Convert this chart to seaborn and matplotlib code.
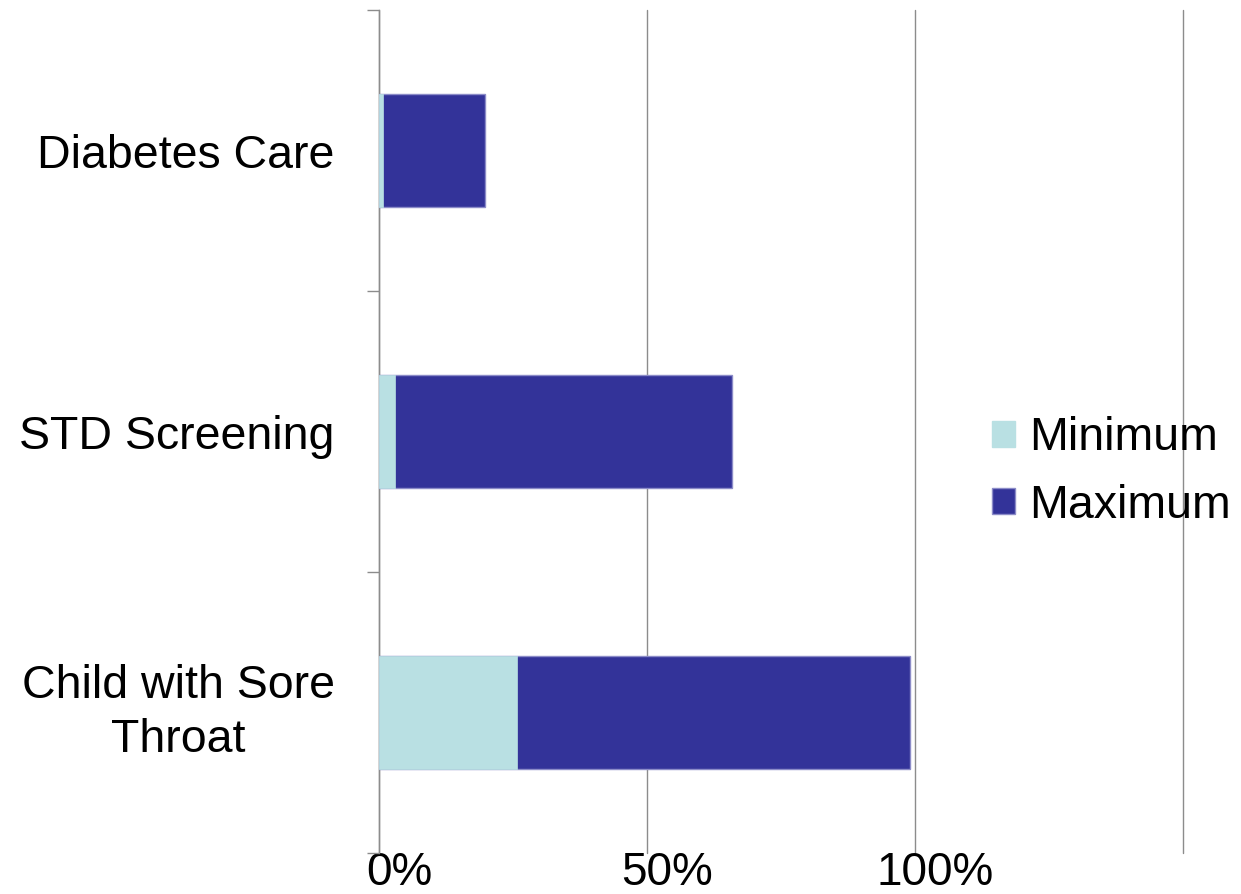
import matplotlib
matplotlib.use("Agg")
import matplotlib.pyplot as plt
import matplotlib.transforms as mtransforms
from matplotlib.patches import Patch
import seaborn as sns
import pandas as pd

# Data (percent)
categories = ["Diabetes Care", "STD Screening", "Child with Sore\nThroat"]
minimum = [0.8, 2.9, 25.8]
maximum = [19.8, 65.9, 99.1]
x_ticks = [0, 50, 100, 150]
x_tick_labels = ["0%", "50%", "100%", ""]

color_min = "#B9E0E3"
color_max = "#333399"

sns.set_theme(style="white")
plt.rcParams["font.family"] = ["Liberation Sans", "DejaVu Sans"]
plt.rcParams["text.color"] = "black"

df = pd.DataFrame({"category": categories, "Minimum": minimum, "Maximum": maximum})

fig = plt.figure(figsize=(12.41, 8.94), dpi=100)
ax = fig.add_axes([379 / 1241, 1 - 853 / 894, (1183 - 379) / 1241, (853 - 10) / 894])

# Maximum bar spans the full range; the minimum portion is drawn over its start
sns.barplot(data=df, x="Maximum", y="category", orient="h", color=color_max,
            width=0.4, edgecolor="#8c8cc8", linewidth=1.0, saturation=1, ax=ax, zorder=3)
sns.barplot(data=df, x="Minimum", y="category", orient="h", color=color_min,
            width=0.4, edgecolor=color_min, linewidth=0.5, saturation=1, ax=ax, zorder=4)

ax.set_xlim(0, 150)
ax.set_ylim(2.5, -0.5)
ax.set_xlabel("")
ax.set_ylabel("")

# Gridlines
ax.set_xticks(x_ticks)
ax.set_xticklabels(x_tick_labels, fontsize=33, color="black")
ax.grid(axis="x", color="#8c8c8c", linewidth=1.0, zorder=0)
ax.set_axisbelow(True)
for gl in ax.get_xgridlines():
    gl.set_clip_on(False)
ax.tick_params(axis="x", length=0, pad=0)
offset = mtransforms.ScaledTranslation(20 / 100, 2 / 100, fig.dpi_scale_trans)
for lbl in ax.get_xticklabels():
    lbl.set_transform(lbl.get_transform() + offset)

# Category labels on major ticks, tick marks on boundaries
ax.set_yticks([0, 1, 2])
ax.set_yticklabels(categories, fontsize=33.5, color="black", multialignment="center")
ax.tick_params(axis="y", which="major", left=True, length=0, pad=32)
ax.set_yticks([-0.5, 0.5, 1.5, 2.5], minor=True)
ax.tick_params(axis="y", which="minor", left=True, length=9, width=1.0,
               color="#8c8c8c", direction="out")
for lbl in ax.get_yticklabels():
    if "\n" in lbl.get_text():
        lbl.set_linespacing(1.3)
        lbl.set_transform(lbl.get_transform()
                          + mtransforms.ScaledTranslation(0, 10 / 100, fig.dpi_scale_trans))

for side in ["top", "right", "bottom"]:
    ax.spines[side].set_visible(False)
ax.spines["left"].set_color("#8c8c8c")
ax.spines["left"].set_linewidth(1.0)

handles = [Patch(facecolor=color_min, edgecolor=color_min, label="Minimum"),
           Patch(facecolor=color_max, edgecolor="#8c8cc8", label="Maximum")]
leg = fig.legend(handles=handles, loc="center left", bbox_to_anchor=(992 / 1241, 1 - 472 / 894),
                 frameon=False, fontsize=33.5, handlelength=0.5, handleheight=0.5,
                 handletextpad=0.3, labelspacing=0.5, borderpad=0, borderaxespad=0)
for t in leg.get_texts():
    t.set_color("black")

fig.savefig("out.png", dpi=100)
